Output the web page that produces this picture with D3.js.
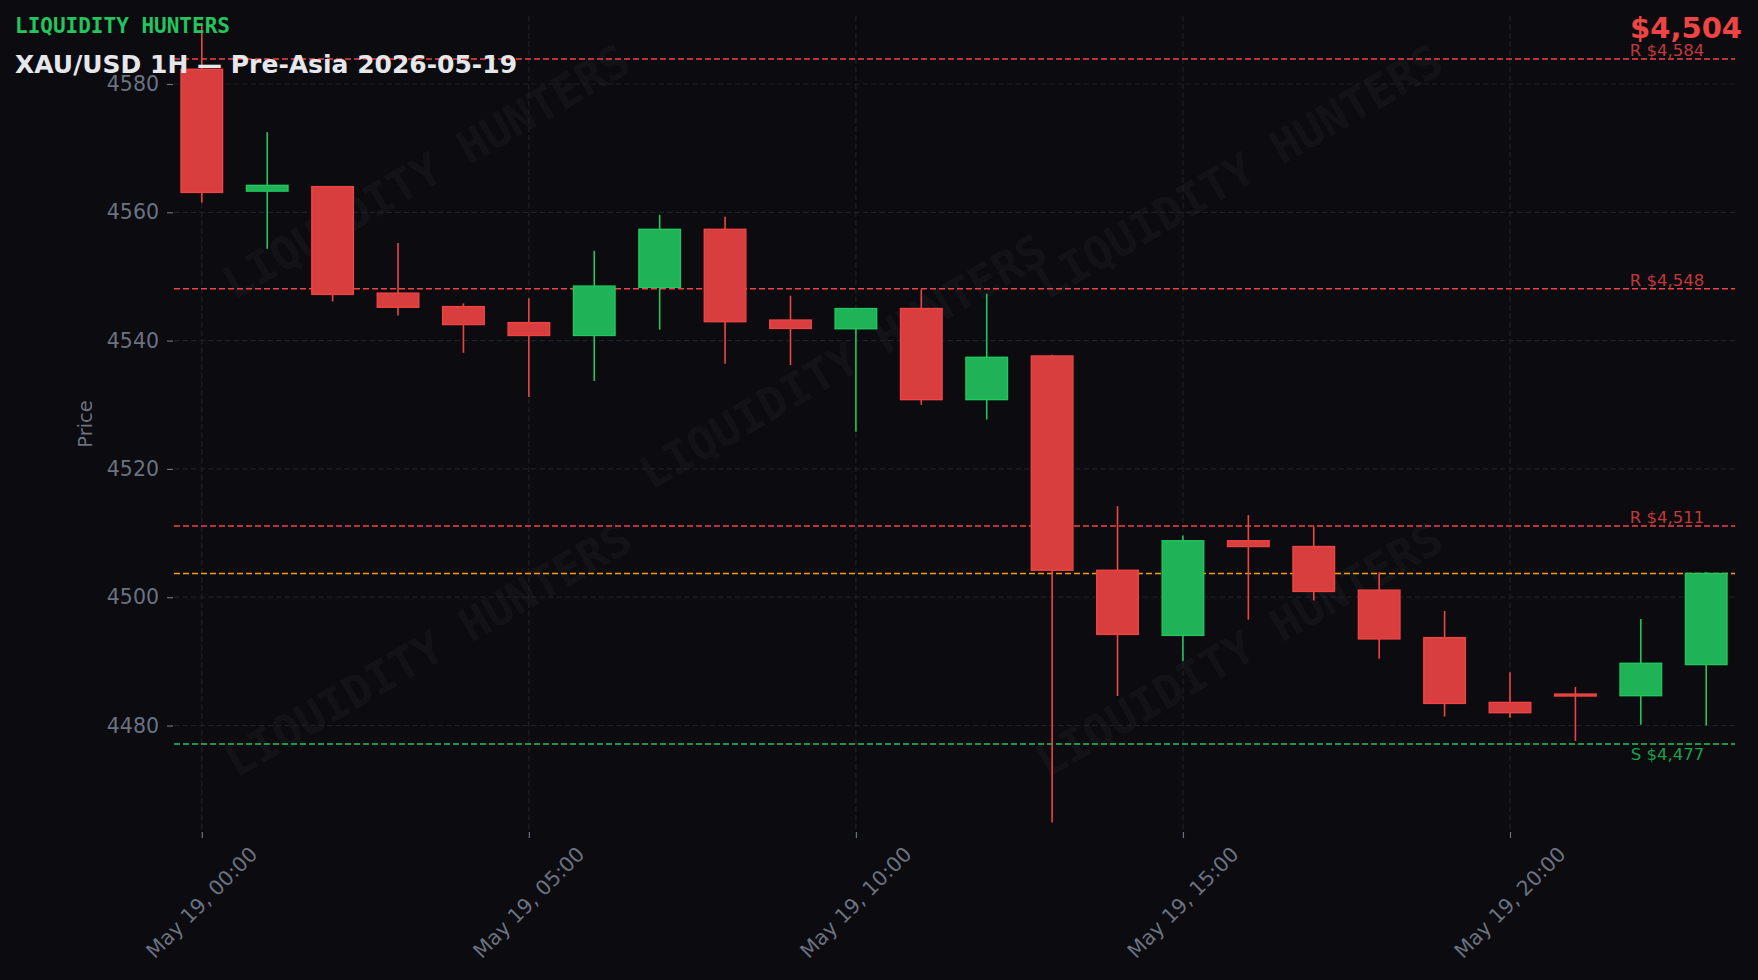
<!DOCTYPE html>
<html>
<head>
<meta charset="utf-8">
<script src="https://cdn.jsdelivr.net/npm/d3@7"></script>
<style>
html,body{margin:0;padding:0;background:#0b0b10;}
svg{display:block;}
</style>
</head>
<body>
<svg id="chart" width="1758" height="980"></svg>
<script>
// ---------- DATA ----------
const times = ["2026-05-19T00:00","2026-05-19T01:00","2026-05-19T02:00","2026-05-19T03:00","2026-05-19T04:00","2026-05-19T05:00",
  "2026-05-19T06:00","2026-05-19T07:00","2026-05-19T08:00","2026-05-19T09:00","2026-05-19T10:00","2026-05-19T11:00",
  "2026-05-19T12:00","2026-05-19T13:00","2026-05-19T14:00","2026-05-19T15:00","2026-05-19T16:00","2026-05-19T17:00",
  "2026-05-19T18:00","2026-05-19T19:00","2026-05-19T20:00","2026-05-19T21:00","2026-05-19T22:00","2026-05-19T23:00"];
const opens  = [4582.3,4563.3,4564.0,4547.4,4545.3,4542.8,4540.8,4548.3,4557.35,4543.2,4541.85,4545.0,
  4530.8,4537.6,4504.2,4494.05,4508.8,4507.9,4501.1,4493.7,4483.6,4484.9,4484.65,4489.5];
const highs  = [4589.4,4572.5,4564.1,4555.2,4545.8,4546.6,4554.0,4559.6,4559.3,4547.0,4545.1,4548.0,
  4547.3,4537.8,4514.2,4509.6,4512.8,4511.0,4503.9,4497.85,4488.3,4486.0,4496.6,4503.9];
const lows   = [4561.5,4554.3,4546.1,4543.9,4538.1,4531.2,4533.7,4541.7,4536.4,4536.2,4525.8,4530.0,
  4527.7,4464.9,4484.6,4490.0,4496.5,4499.5,4490.4,4481.4,4481.2,4477.6,4480.1,4480.0];
const closes = [4563.1,4564.2,4547.2,4545.2,4542.5,4540.8,4548.5,4557.35,4542.95,4541.9,4545.0,4530.8,
  4537.4,4504.2,4494.2,4508.8,4507.9,4500.9,4493.5,4483.45,4482.0,4484.6,4489.7,4503.7];

const levelPrices = [4583.9, 4548.1, 4511.1, 4477.1];
const levelLabels = ["R $4,584", "R $4,548", "R $4,511", "S $4,477"];
const levelKinds  = ["R", "R", "R", "S"];
const currentPrice = 4503.7;
const currentPriceLabel = "$4,504";

const yTickValues = [4480, 4500, 4520, 4540, 4560, 4580];
const xTickTimes = ["2026-05-19T00:00","2026-05-19T05:00","2026-05-19T10:00","2026-05-19T15:00","2026-05-19T20:00"];

const brandText = "LIQUIDITY HUNTERS";
const titleText = "XAU/USD 1H \u2014 Pre-Asia 2026-05-19";
const yAxisTitle = "Price";

// ---------- SETUP ----------
const parse = d3.timeParse("%Y-%m-%dT%H:%M");
const fmt = d3.timeFormat("%b %d, %H:%M");
const HOUR = 3600 * 1000;
const candles = times.map((t, i) => ({t: parse(t), o: opens[i], h: highs[i], l: lows[i], c: closes[i]}));

const COL = {
  bg: "#0b0b10", grid: "#1f1f28", text: "#6b7280",
  up: "#22c55e", down: "#ef4444", orange: "#f59e0b"
};

const svg = d3.select("#chart");
svg.append("rect").attr("width", 1758).attr("height", 980).attr("fill", COL.bg);

const plot = {left: 174, right: 1735, top: 16, bottom: 832};
const t0 = candles[0].t.getTime();
const x = d3.scaleTime()
  .domain([new Date(t0 - 0.425 * HOUR), new Date(t0 + 23.44 * HOUR)])
  .range([plot.left, plot.right]);
const y = d3.scaleLinear().domain([4463.4, 4590.6]).range([plot.bottom, plot.top]);
const hourPx = x(new Date(t0 + HOUR)) - x(new Date(t0));

// ---------- WATERMARK ----------
const wmPos = [[426,172],[843,362],[1239,172],[428,650],[1239,650]];
svg.append("g").selectAll("text").data(wmPos).join("text")
  .attr("transform", d => `translate(${d[0]},${d[1]}) rotate(-30)`)
  .attr("text-anchor", "middle").attr("dominant-baseline", "central")
  .attr("font-family", "DejaVu Sans Mono").attr("font-weight", "bold")
  .attr("font-size", 45).attr("fill", "#ffffff").attr("fill-opacity", 0.05)
  .text(brandText);

// ---------- GRID ----------
const xTicks = xTickTimes.map(parse);
const grid = svg.append("g");
grid.selectAll("line.h").data(yTickValues).join("line").attr("class","h")
  .attr("x1", plot.left).attr("x2", plot.right)
  .attr("y1", d => y(d)).attr("y2", d => y(d))
  .attr("stroke", COL.grid).attr("stroke-width", 1.2).attr("stroke-dasharray", "5.5,3");
grid.selectAll("line.v").data(xTicks).join("line").attr("class","v")
  .attr("x1", d => x(d)).attr("x2", d => x(d))
  .attr("y1", plot.top).attr("y2", plot.bottom)
  .attr("stroke", COL.grid).attr("stroke-width", 1.2).attr("stroke-dasharray", "5.5,3");

// ---------- AXES ----------
const yAxis = d3.axisLeft(y).tickValues(yTickValues).tickSize(6).tickPadding(8).tickFormat(d3.format("d"));
const gy = svg.append("g").attr("transform", `translate(${plot.left - 1},0)`).call(yAxis);
gy.select(".domain").remove();
gy.selectAll(".tick line").attr("stroke", COL.text).attr("stroke-width", 1.2);
gy.selectAll(".tick text").attr("fill", COL.text).attr("font-family", "DejaVu Sans").attr("font-size", 20.5);

const xAxis = d3.axisBottom(x).tickValues(xTicks).tickSize(6).tickFormat(fmt);
const gx = svg.append("g").attr("transform", `translate(0,${plot.bottom})`).call(xAxis);
gx.select(".domain").remove();
gx.selectAll(".tick line").attr("stroke", COL.text).attr("stroke-width", 1.2);
gx.selectAll(".tick text").remove();
// rotated labels, bbox centred on tick (rotation 45)
const xl = svg.append("g");
xTicks.forEach(t => {
  const g = xl.append("g");
  g.append("text").attr("text-anchor", "end").attr("transform", "rotate(-45)")
    .attr("fill", COL.text).attr("font-family", "DejaVu Sans").attr("font-size", 20.5)
    .text(fmt(t));
  const n = g.node();
  const r = n.getBoundingClientRect();
  const cx = r.left + r.width / 2;
  g.attr("transform", `translate(${x(t) - cx},${plot.bottom + 10 - r.top})`);
});

svg.append("text")
  .attr("transform", `translate(92,424) rotate(-90)`)
  .attr("text-anchor", "middle").attr("fill", COL.text)
  .attr("font-family", "DejaVu Sans").attr("font-size", 19.5)
  .text(yAxisTitle);

// ---------- LEVEL LINES ----------
const lv = svg.append("g");
levelPrices.forEach((p, i) => {
  const col = levelKinds[i] === "R" ? COL.down : COL.up;
  lv.append("line").attr("x1", plot.left).attr("x2", plot.right)
    .attr("y1", y(p)).attr("y2", y(p))
    .attr("stroke", col).attr("stroke-width", 1.5).attr("stroke-dasharray", "6,3");
});
lv.append("line").attr("x1", plot.left).attr("x2", plot.right)
  .attr("y1", y(currentPrice)).attr("y2", y(currentPrice))
  .attr("stroke", COL.orange).attr("stroke-width", 1.5).attr("stroke-dasharray", "6,3");

// ---------- CANDLES ----------
const strokeW = 1.4;
const bodyW = hourPx * 0.657 - strokeW;
const cg = svg.append("g");
const cs = cg.selectAll("g").data(candles).join("g");
cs.append("line")
  .attr("x1", d => x(d.t)).attr("x2", d => x(d.t))
  .attr("y1", d => y(d.h)).attr("y2", d => y(d.l))
  .attr("stroke", d => d.c >= d.o ? COL.up : COL.down).attr("stroke-width", 1.6);
cs.append("rect")
  .attr("x", d => x(d.t) - bodyW / 2).attr("width", bodyW)
  .attr("y", d => y(Math.max(d.o, d.c)))
  .attr("height", d => Math.max(0.6, y(Math.min(d.o, d.c)) - y(Math.max(d.o, d.c))))
  .attr("fill", d => d.c >= d.o ? "#1fb256" : "#d83e3e")
  .attr("stroke", d => d.c >= d.o ? COL.up : COL.down).attr("stroke-width", strokeW);

// ---------- LEVEL LABELS ----------
const lastX = x(candles[candles.length - 1].t);
levelPrices.forEach((p, i) => {
  const isR = levelKinds[i] === "R";
  svg.append("text")
    .attr("x", lastX - 2).attr("y", isR ? y(p) - 3 : y(p) + 16)
    .attr("text-anchor", "end")
    .attr("fill", isR ? "#c13939" : "#1da04d")
    .attr("font-family", "DejaVu Sans").attr("font-size", 16.5)
    .text(levelLabels[i]);
});

// ---------- TITLES ----------
svg.append("text").attr("x", 15).attr("y", 33)
  .attr("font-family", "DejaVu Sans Mono").attr("font-weight", "bold").attr("font-size", 21)
  .attr("fill", COL.up).text(brandText);
svg.append("text").attr("x", 15).attr("y", 73)
  .attr("font-family", "DejaVu Sans").attr("font-weight", "bold").attr("font-size", 25)
  .attr("fill", "#e5e7eb").text(titleText);
svg.append("text").attr("x", 1742).attr("y", 38)
  .attr("text-anchor", "end")
  .attr("font-family", "DejaVu Sans").attr("font-weight", "bold").attr("font-size", 29)
  .attr("fill", COL.down).text(currentPriceLabel);
</script>
</body>
</html>
